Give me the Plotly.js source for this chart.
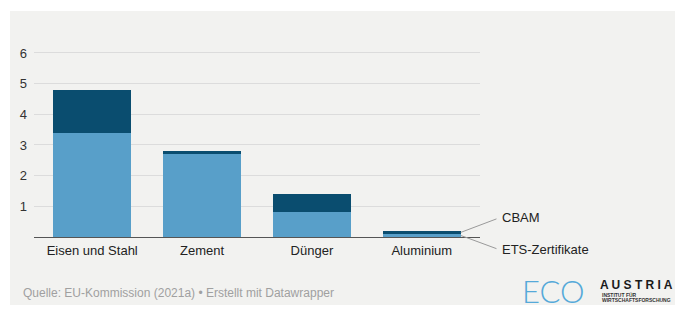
<!DOCTYPE html>
<html>
<head>
<meta charset="utf-8">
<script src="https://cdn.plot.ly/plotly-3.0.1.min.js"></script>
<style>html,body{margin:0;padding:0;background:#fff;}#chart{width:675px;height:309px;}</style>
</head>
<body>
<div id="chart"></div>
<script>
// Data
const categories = ["Eisen und Stahl", "Zement", "Dünger", "Aluminium"];
const etsValues = [3.4, 2.7, 0.8, 0.1];
const cbamValues = [1.4, 0.1, 0.6, 0.1];
const seriesNames = ["ETS-Zertifikate", "CBAM"];
const yTicks = [1, 2, 3, 4, 5, 6];
const sourceText = "Quelle: EU-Kommission (2021a) • Erstellt mit Datawrapper";

const W = 675, H = 309;
const M = {l: 34, r: 195, t: 44, b: 72};
const pw = W - M.l - M.r, ph = H - M.t - M.b;
const xRange = [-0.53, 3.53];
const pxPerUnitY = 30.67;
const yRange = [0, ph / pxPerUnitY];
const px2paperX = px => (px - M.l) / pw;
const px2paperY = py => (H - M.b - py) / ph;
const d2paperX = x => (x - xRange[0]) / (xRange[1] - xRange[0]);
const d2paperY = y => (y - yRange[0]) / (yRange[1] - yRange[0]);

const font = "Liberation Sans, Arial, sans-serif";
const lightBlue = "#589fc9";
const darkBlue = "#0a4d6f";

const traces = [
  {type: "bar", name: seriesNames[0], x: categories, y: etsValues,
   marker: {color: lightBlue, line: {width: 0}}, hoverinfo: "skip"},
  {type: "bar", name: seriesNames[1], x: categories, y: cbamValues,
   marker: {color: darkBlue, line: {width: 0}}, hoverinfo: "skip"}
];

// leader lines for last category
const last = categories.length - 1;
const barHalf = 0.355;
const xStart = last + barHalf;
const xEnd = 3.68;
const cbamMid = etsValues[last] + cbamValues[last] / 2;
const etsMid = etsValues[last] / 2;
const labelYCbam = 0.62, labelYEts = -0.40;

const shapes = [
  {type: "rect", xref: "paper", yref: "paper", layer: "below",
   x0: px2paperX(10), x1: px2paperX(676), y0: px2paperY(305), y1: px2paperY(11),
   fillcolor: "#f2f2f0", line: {width: 0}},
  {type: "line", xref: "paper", yref: "paper",
   x0: d2paperX(xStart), y0: d2paperY(cbamMid), x1: d2paperX(xEnd), y1: d2paperY(labelYCbam - 0.03),
   line: {color: "#9a9a9a", width: 1}},
  {type: "line", xref: "paper", yref: "paper",
   x0: d2paperX(xStart), y0: d2paperY(etsMid), x1: d2paperX(xEnd), y1: d2paperY(labelYEts + 0.02),
   line: {color: "#9a9a9a", width: 1}}
];

const annotations = [
  {xref: "paper", yref: "paper", x: d2paperX(3.71), y: d2paperY(labelYCbam), text: seriesNames[1], showarrow: false,
   xanchor: "left", yanchor: "middle", font: {family: font, size: 13, color: "#222"}},
  {xref: "paper", yref: "paper", x: d2paperX(3.71), y: d2paperY(labelYEts), text: seriesNames[0], showarrow: false,
   xanchor: "left", yanchor: "middle", font: {family: font, size: 13, color: "#222"}},
  {xref: "paper", yref: "paper", x: px2paperX(21), y: px2paperY(293), text: sourceText, showarrow: false,
   xanchor: "left", yanchor: "middle", font: {family: font, size: 12, color: "#a0a0a0"}},
  {xref: "paper", yref: "paper", x: px2paperX(520), y: px2paperY(291), text: "ECO", showarrow: false,
   xanchor: "left", yanchor: "middle", font: {family: "Lato, Noto Sans, sans-serif", size: 31, color: "#55a9d9", weight: 300}},
  {xref: "paper", yref: "paper", x: px2paperX(598), y: px2paperY(285), text: "A U S T R I A", showarrow: false,
   xanchor: "left", yanchor: "middle", font: {family: font, size: 12, color: "#1a1a1a", weight: 700}},
  {xref: "paper", yref: "paper", x: px2paperX(600), y: px2paperY(295), text: "INSTITUT FÜR", showarrow: false,
   xanchor: "left", yanchor: "middle", font: {family: font, size: 5, color: "#333", weight: 700}},
  {xref: "paper", yref: "paper", x: px2paperX(600), y: px2paperY(300), text: "WIRTSCHAFTSFORSCHUNG", showarrow: false,
   xanchor: "left", yanchor: "middle", font: {family: font, size: 5, color: "#333", weight: 700}}
];

const layout = {
  width: W, height: H,
  margin: M,
  paper_bgcolor: "#ffffff",
  plot_bgcolor: "rgba(0,0,0,0)",
  barmode: "stack",
  bargap: 0.29,
  showlegend: false,
  font: {family: font, size: 13, color: "#333"},
  xaxis: {range: xRange, showgrid: false, zeroline: false, showline: false,
          ticks: "", ticklabelstandoff: 4, tickfont: {family: font, size: 13, color: "#222"}, fixedrange: true},
  yaxis: {range: yRange, tickvals: yTicks, ticktext: yTicks.map(String),
          showgrid: true, gridcolor: "#dcdcdc", gridwidth: 1,
          zeroline: true, zerolinecolor: "#555", zerolinewidth: 1,
          showline: false, ticks: "", ticklabelstandoff: 6,
          tickfont: {family: font, size: 13, color: "#333"}, fixedrange: true},
  shapes: shapes,
  annotations: annotations
};

Plotly.newPlot("chart", traces, layout, {staticPlot: true, displayModeBar: false});
</script>
</body>
</html>
